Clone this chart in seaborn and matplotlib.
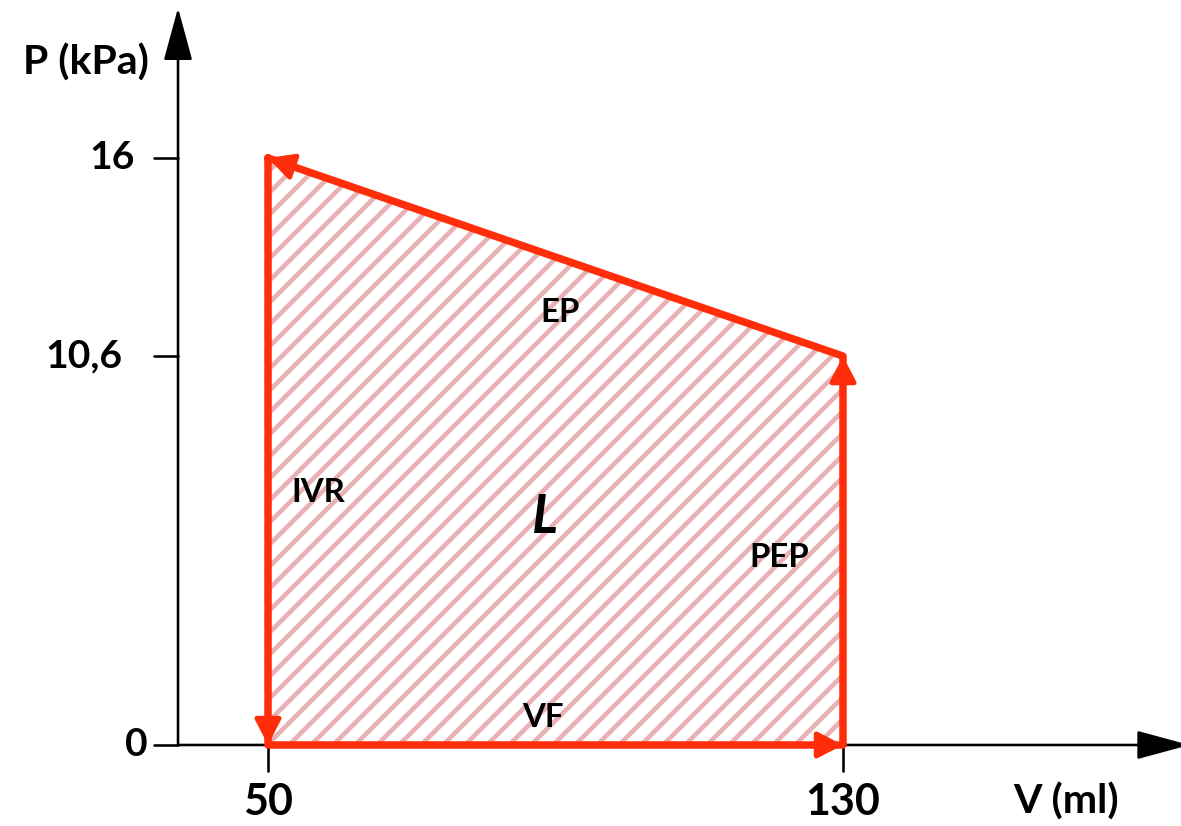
import matplotlib
matplotlib.use("Agg")
import matplotlib.pyplot as plt
import numpy as np
import pandas as pd
import seaborn as sns

# Corners of the pressure-volume loop, in the order the cycle runs
volume = [50, 50, 130, 130]          # ml
pressure = [16, 0, 0, 10.6]          # kPa
phases = ["IVR", "VF", "PEP", "EP"]  # phase leaving each corner

x_ticks = [50, 130]
x_tick_labels = ["50", "130"]
y_ticks = [0, 10.6, 16]
y_tick_labels = ["0", "10,6", "16"]

x_title = "V (ml)"
y_title = "P (kPa)"
area_label = "L"

# Where each phase name sits inside the loop
phase_label_pos = {"IVR": (57.0, 6.87), "VF": (88.3, 0.74),
                   "PEP": (121.1, 5.12), "EP": (90.6, 11.8)}

DPI = 132
W, H = 1181, 826
RED = "#ff2d0a"
PINK = "#e9b1b4"
WEIGHT = "bold"


def pt(px):
    return px * 72 / DPI


sns.set_theme(style="white")
plt.rcParams["font.family"] = ["Lato", "DejaVu Sans"]
plt.rcParams["hatch.linewidth"] = pt(4.6)

fig = plt.figure(figsize=(W / DPI, H / DPI), dpi=DPI)
ax = fig.add_axes([0, 0, 1, 1])
ax.set_xlim(12.71, 177.03)
ax.set_ylim(-2.208, 20.305)
ax.axis("off")

# Hatched work area enclosed by the loop
ax.fill(volume, pressure, facecolor="white", edgecolor=PINK, hatch="//", lw=0,
        zorder=1)

# Loop outline
loop = pd.DataFrame({"V": volume + volume[:1], "P": pressure + pressure[:1],
                     "step": range(len(volume) + 1)})
sns.lineplot(data=loop, x="V", y="P", sort=False, estimator=None, color=RED,
             lw=pt(7.5), ax=ax, zorder=3)

# Direction arrows on every phase
n = len(volume)
for i in range(n):
    start = (volume[i], pressure[i])
    end = (volume[(i + 1) % n], pressure[(i + 1) % n])
    ax.annotate("", xy=end, xytext=start, annotation_clip=False,
                arrowprops=dict(arrowstyle="-|>,head_length=0.58,head_width=0.3",
                                mutation_scale=20, color=RED, lw=pt(5),
                                shrinkA=0, shrinkB=0),
                zorder=4)

# Axes drawn as arrows
x_axis_left = 37.48
ax_lw = pt(2.6)
axis_head = dict(arrowstyle="-|>,head_length=1.25,head_width=0.34",
                 mutation_scale=20, color="black", lw=ax_lw,
                 shrinkA=0, shrinkB=0)
ax.annotate("", xy=(178.2, 0), xytext=(x_axis_left, 0), arrowprops=axis_head,
            annotation_clip=False, zorder=2)
ax.annotate("", xy=(x_axis_left, 20.09), xytext=(x_axis_left, 0),
            arrowprops=axis_head, annotation_clip=False, zorder=2)

# Tick marks
for xv in x_ticks:
    ax.plot([xv, xv], [0, -0.72], color="black", lw=ax_lw, zorder=2)
for yv in y_ticks:
    ax.plot([x_axis_left - 3.3, x_axis_left], [yv, yv], color="black",
            lw=ax_lw, zorder=2)

tick_font = dict(fontweight=WEIGHT, color="black")
for xv, lab in zip(x_ticks, x_tick_labels):
    ax.text(xv, -1.55, lab, ha="center", va="center", fontsize=pt(43),
            **tick_font)
y_label_x = [33.3, 29.7, 31.5]
for yv, lab, lx in zip(y_ticks, y_tick_labels, y_label_x):
    ax.text(lx, yv, lab, ha="right", va="center", fontsize=pt(39), **tick_font)

ax.text(24.6, 18.6, y_title, ha="center", va="center", fontsize=pt(41),
        **tick_font)
ax.text(161.0, -1.55, x_title, ha="center", va="center", fontsize=pt(41),
        **tick_font)

for name in phases:
    px, py = phase_label_pos[name]
    ax.text(px, py, name, ha="center", va="center", fontsize=pt(33),
            fontweight=WEIGHT, color="black", zorder=5)

ax.text(88.5, 6.2, area_label, ha="center", va="center", fontsize=pt(54),
        fontweight=WEIGHT, fontstyle="italic", color="black", zorder=5)

fig.savefig("out.png", dpi=DPI)
